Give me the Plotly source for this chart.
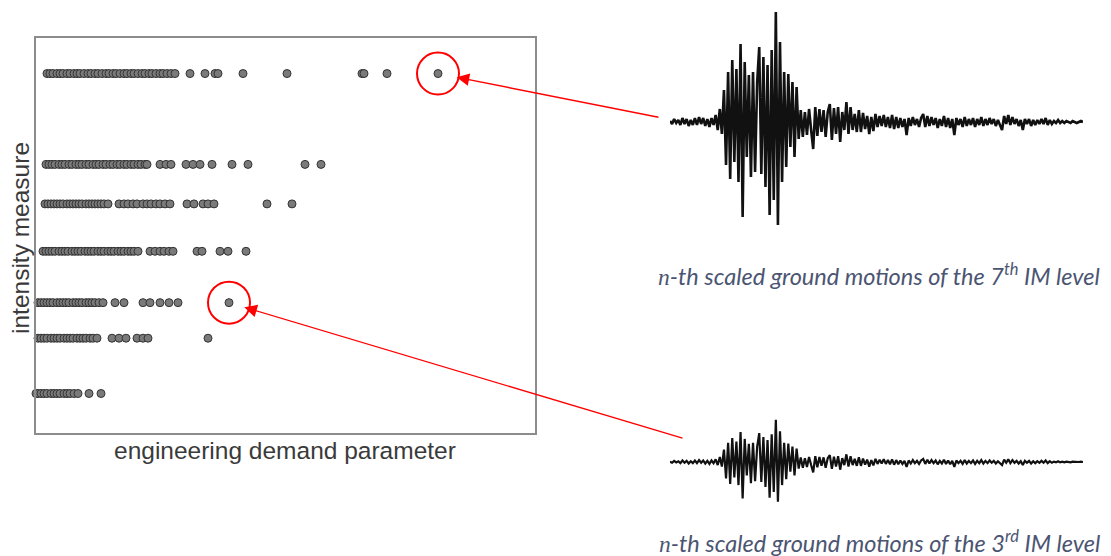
import plotly.graph_objects as go

W, H = 1111, 556

# ---- IM levels (Sa, g) and EDP results of each scaled record set ----
im_levels = [0.10, 0.24, 0.33, 0.46, 0.58, 0.68, 0.91]

edp_level_1 = [0.00, 0.02, 0.05, 0.08, 0.11, 0.15, 0.18, 0.21, 0.24, 0.28, 0.31, 0.34,
               0.38, 0.42, 0.53, 0.65]
edp_level_2 = [0.02, 0.05, 0.08, 0.11, 0.15, 0.18, 0.21, 0.24, 0.28, 0.31, 0.34, 0.37,
               0.41, 0.44, 0.47, 0.50, 0.54, 0.57, 0.61, 0.76, 0.83, 0.90, 1.01, 1.07,
               1.12, 1.72]
edp_level_3 = [0.02, 0.05, 0.08, 0.11, 0.14, 0.17, 0.21, 0.24, 0.27, 0.30, 0.33, 0.37,
               0.40, 0.43, 0.46, 0.50, 0.53, 0.56, 0.59, 0.63, 0.67, 0.79, 0.88, 1.07,
               1.14, 1.24, 1.33, 1.42, 1.93]
edp_level_4 = [0.07, 0.10, 0.13, 0.16, 0.19, 0.23, 0.26, 0.29, 0.32, 0.36, 0.39, 0.42,
               0.45, 0.49, 0.52, 0.55, 0.58, 0.62, 0.65, 0.68, 0.72, 0.75, 0.78, 0.82,
               0.85, 0.88, 0.92, 0.95, 0.98, 1.02, 1.14, 1.19, 1.24, 1.28, 1.33, 1.37,
               1.61, 1.66, 1.84, 1.92, 2.10]
edp_level_5 = [0.09, 0.12, 0.15, 0.18, 0.21, 0.24, 0.27, 0.31, 0.34, 0.37, 0.40, 0.43,
               0.46, 0.50, 0.53, 0.56, 0.59, 0.62, 0.65, 0.68, 0.72, 0.83, 0.88, 0.92,
               0.97, 1.01, 1.07, 1.11, 1.15, 1.20, 1.24, 1.29, 1.34, 1.51, 1.58, 1.67,
               1.72, 1.78, 2.31, 2.56]
edp_level_6 = [0.10, 0.13, 0.16, 0.19, 0.23, 0.26, 0.29, 0.33, 0.36, 0.40, 0.43, 0.46,
               0.50, 0.53, 0.57, 0.60, 0.63, 0.67, 0.70, 0.74, 0.77, 0.81, 0.84, 0.88,
               0.91, 0.95, 0.98, 1.02, 1.05, 1.09, 1.11, 1.24, 1.30, 1.35, 1.50, 1.57,
               1.64, 1.76, 1.96, 2.12, 2.69, 2.85]
edp_level_7 = [0.11, 0.14, 0.17, 0.21, 0.24, 0.27, 0.31, 0.34, 0.38, 0.41, 0.44, 0.48,
               0.52, 0.55, 0.59, 0.62, 0.66, 0.70, 0.73, 0.77, 0.80, 0.84, 0.88, 0.91,
               0.95, 0.98, 1.02, 1.06, 1.09, 1.13, 1.16, 1.20, 1.24, 1.27, 1.31, 1.35,
               1.39, 1.54, 1.69, 1.79, 1.82, 2.07, 2.51, 3.26, 3.28, 3.51, 4.02]

edp_by_level = [edp_level_1, edp_level_2, edp_level_3, edp_level_4,
                edp_level_5, edp_level_6, edp_level_7]

# highlighted runs: (IM level index, EDP value)
highlight_7 = (6, 4.02)
highlight_3 = (2, 1.93)

# ---- ground-motion record (unscaled acceleration, cm/s^2), dt = 0.2 s ----
dt = 0.2
accel = [
    1, -2, 3, -1, 2, -3, 4, -2, 3, -4, 2, -3, 4, -3, 5, -2, 4, -4, 3, -5, 4, -3,
    7, -8, 13, -12, 32, -43, 50, -57, 62, -40, 53, -60, 78, -95, 60, -35, 47, -55,
    50, -50, 40, 75, -52, 65, -65, 57, -93, 72, -78, 110, -103, 80, -60, 50, -45,
    48, -25, 40, -35, 35, -17, 12, -15, 10, -13, 13, -8, -27, 15,
    -14, 13, -10, 12, -15, 10, 18, -18, 14, -12, 15, -20, 10, -8, 20, -12, 15, -8,
    8, -10, 12, -10, 9, -7, 6, -12, 5, -9, 8, -5, 6, -4, 7, -5, 5, -6, 7, -7, 5,
    -6, 4, -5, 3, -13, 4, -4, 5, -3, 3, -5, 4, 8, -5, 6, -4, 5, -3, 4, -6, 3, -4,
    6, -5, 4, -6, 3, -13, 4, -3, 3, -5, 5, -4, 3, -3, 4, -5, 3, -3, 5, -4, 3, -3,
    4, -2, 3, -4, 2, -3, -8, 6, -2, 7, -3, 5, -2, 3, -4, 2, -8, 3, -2, 3, -4, 2,
    -3, 2, -2, 3, -2, 4, -3, 2, -2, 1, -1, 2, -1, 1, -1, 1, 0, -1, 1, 0, -1, 0, 1, 0,
]
time = [i * dt for i in range(len(accel))]

# scale factors of the record for the two IM levels shown
sf_level_7 = 2.6
sf_level_3 = 1.0

n_sym = "<span style=\"font-family:Liberation Serif\">n</span>"
caption_7 = n_sym + "-th scaled ground motions of the 7<sup>th</sup> IM level"
caption_3 = n_sym + "-th scaled ground motions of the 3<sup>rd</sup> IM level"


def px_x(p):
    return p / W


def px_y(p):
    return 1 - p / H


fig = go.Figure()

# IDA-style cloud: EDP of every scaled record at each IM level
for lvl, edps in zip(im_levels, edp_by_level):
    fig.add_trace(go.Scatter(
        x=edps, y=[lvl] * len(edps), mode="markers", cliponaxis=False,
        marker=dict(size=8, color="#7a7a7a", line=dict(color="#333333", width=1)),
        xaxis="x", yaxis="y", hoverinfo="skip"))

# scaled accelerograms
fig.add_trace(go.Scatter(
    x=time, y=[a * sf_level_7 for a in accel], mode="lines",
    line=dict(color="#111111", width=2.6), xaxis="x2", yaxis="y2", hoverinfo="skip"))
fig.add_trace(go.Scatter(
    x=time, y=[a * sf_level_3 for a in accel], mode="lines",
    line=dict(color="#111111", width=2.2), xaxis="x3", yaxis="y3", hoverinfo="skip"))

frame = dict(showline=True, mirror=True, linecolor="#8c8c8c", linewidth=1.5,
             showgrid=False, zeroline=False, showticklabels=False, ticks="")
hidden = dict(visible=False, showgrid=False, zeroline=False)

wave_x = [px_x(670), px_x(1083)]
half_top = 120 * sf_level_7
half_bot = 60 * sf_level_7

fig.update_layout(
    width=W, height=H, margin=dict(l=0, r=0, t=0, b=0),
    paper_bgcolor="white", plot_bgcolor="white", showlegend=False,
    xaxis=dict(domain=[px_x(36), px_x(535)], range=[0, 4.99], **frame),
    yaxis=dict(domain=[px_y(433), px_y(38)], range=[0, 1.0], **frame),
    xaxis2=dict(domain=wave_x, range=[0, time[-1]], anchor="y2", **hidden),
    yaxis2=dict(domain=[px_y(242), px_y(2)], range=[-half_top, half_top],
                anchor="x2", **hidden),
    xaxis3=dict(domain=wave_x, range=[0, time[-1]], anchor="y3", **hidden),
    yaxis3=dict(domain=[px_y(522), px_y(402)], range=[-half_bot, half_bot],
                anchor="x3", **hidden),
)

# red circles around the highlighted runs
for lvl_idx, edp in (highlight_7, highlight_3):
    fig.add_shape(type="circle", xref="x", yref="y",
                  xsizemode="pixel", ysizemode="pixel",
                  xanchor=edp, yanchor=im_levels[lvl_idx],
                  x0=-21, x1=21, y0=-21, y1=21,
                  line=dict(color="#ff0000", width=2))

# arrows from each record to its point in the cloud
for (lvl_idx, edp), ax, ay, so in ((highlight_7, 222, 44, 19),
                                   (highlight_3, 455, 136, 16)):
    fig.add_annotation(x=edp, y=im_levels[lvl_idx], xref="x", yref="y",
                       ax=ax, ay=ay, axref="pixel", ayref="pixel", text="",
                       showarrow=True, arrowhead=2, arrowsize=1.8, arrowwidth=1.4,
                       arrowcolor="#ff0000", standoff=so)

label_font = dict(family="Liberation Sans, Arial, sans-serif", size=24.5, color="#3a3a3a")
fig.add_annotation(text="engineering demand parameter", xref="paper", yref="paper",
                   x=px_x(285), y=px_y(450), showarrow=False, font=label_font,
                   xanchor="center", yanchor="middle")
fig.add_annotation(text="intensity measure", xref="paper", yref="paper",
                   x=px_x(20), y=px_y(238), showarrow=False, font=label_font,
                   textangle=-90, xanchor="center", yanchor="middle")

cap_font = dict(family="Lato, 'DejaVu Sans', sans-serif", size=23.5, color="#4b5572",
                style="italic")
fig.add_annotation(text=caption_7, xref="paper", yref="paper",
                   x=px_x(879), y=px_y(274), showarrow=False, font=cap_font,
                   xanchor="center", yanchor="middle")
fig.add_annotation(text=caption_3, xref="paper", yref="paper",
                   x=px_x(879), y=px_y(541), showarrow=False, font=cap_font,
                   xanchor="center", yanchor="middle")

fig.write_html("out.html")
